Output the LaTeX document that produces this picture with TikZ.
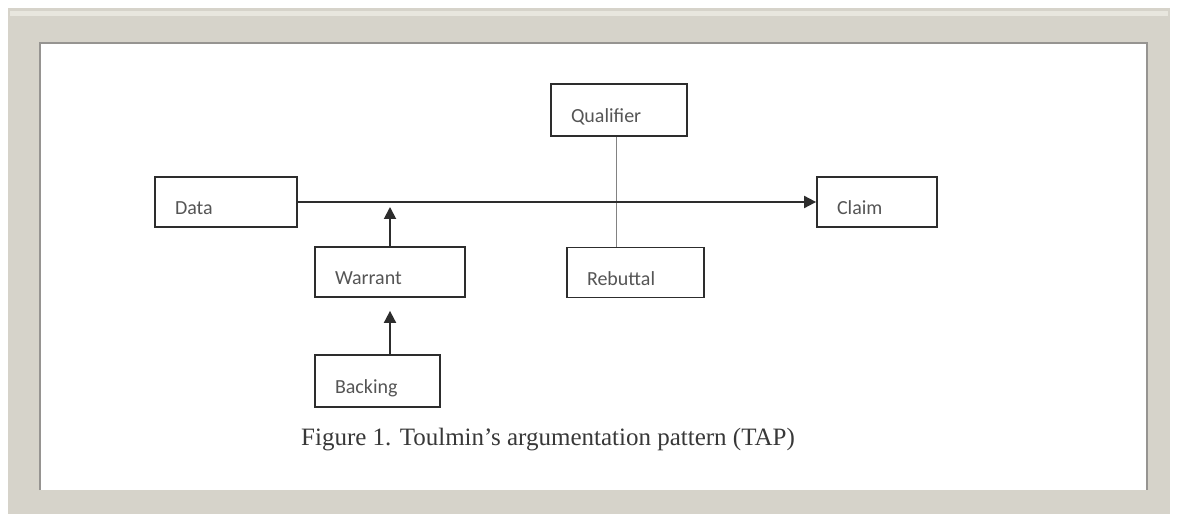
\documentclass[tikz,border=0pt]{standalone}
\usepackage{fontspec}
\setmainfont{Liberation Serif}
\newfontfamily\boxfont{Carlito}
\usetikzlibrary{arrows.meta}
\definecolor{framec}{RGB}{214,211,202}
\definecolor{framelight}{RGB}{232,230,222}
\definecolor{edgec}{RGB}{150,148,145}
\definecolor{linec}{RGB}{45,45,45}
\definecolor{textc}{RGB}{85,85,85}
\definecolor{thinc}{RGB}{130,130,130}
\tikzset{
  tapbox/.style={draw=linec, line width=1.8pt, fill=white, minimum height=50pt,
    inner xsep=20pt, inner ysep=2pt, align=left, font=\boxfont\fontsize{20}{22}\selectfont,
    text=textc},
  mainline/.style={draw=linec, line width=1.9pt},
  arr/.style={mainline, -{Triangle[length=12pt,width=12pt]}},
  thinline/.style={draw=thinc, line width=1pt},
  captionfont/.style={font=\fontsize{25}{28}\selectfont, text=black!78}
}
\newcommand{\lowered}[1]{\raisebox{-13pt}[0pt][0pt]{#1}}
\begin{document}
\begin{tikzpicture}[x=1pt, y=-1pt]
\useasboundingbox (0,0) rectangle (1177,518);
% frame
\fill[white] (0,0) rectangle (1177,518);
\fill[framec] (8,8) rectangle (1170,514);
\fill[framelight] (10,11) rectangle (1168,16);
\fill[white] (40,43) rectangle (1147,490);
\draw[edgec, line width=1.6pt] (40,490) -- (40,43) -- (1147,43) -- (1147,490);

% boxes
\node[tapbox, minimum width=142pt, text width=102pt] (data) at (226,202) {\lowered{Data}};
\node[tapbox, minimum width=150pt, text width=110pt] (warrant) at (390,272) {\lowered{Warrant}};
\node[tapbox, minimum width=125pt, text width=85pt, minimum height=52pt] (backing) at (377.5,381) {\lowered{Backing}};
\node[tapbox, minimum width=136pt, text width=96pt, minimum height=52pt] (qualifier) at (619,110) {\lowered{Qualifier}};
\node[tapbox, minimum width=137pt, text width=97pt] (rebuttal) at (635.5,272.5) {\lowered{Rebuttal}};
\node[tapbox, minimum width=120pt, text width=80pt] (claim) at (877,202) {\lowered{Claim}};

% connectors
\draw[thinline] ([xshift=-3pt]qualifier.south) -- ([xshift=-3pt]qualifier.south |- rebuttal.north);
\draw[arr] (data.east) -- (claim.west);
\draw[arr, shorten >=5pt] (warrant.north) -- (warrant.north |- data.east);
\draw[arr, shorten >=13pt] (backing.north -| warrant.south) -- (warrant.south);

% caption
\node[captionfont] (cap) at (548,440) {Figure 1. Toulmin's argumentation pattern (TAP)};
\end{tikzpicture}
\end{document}
